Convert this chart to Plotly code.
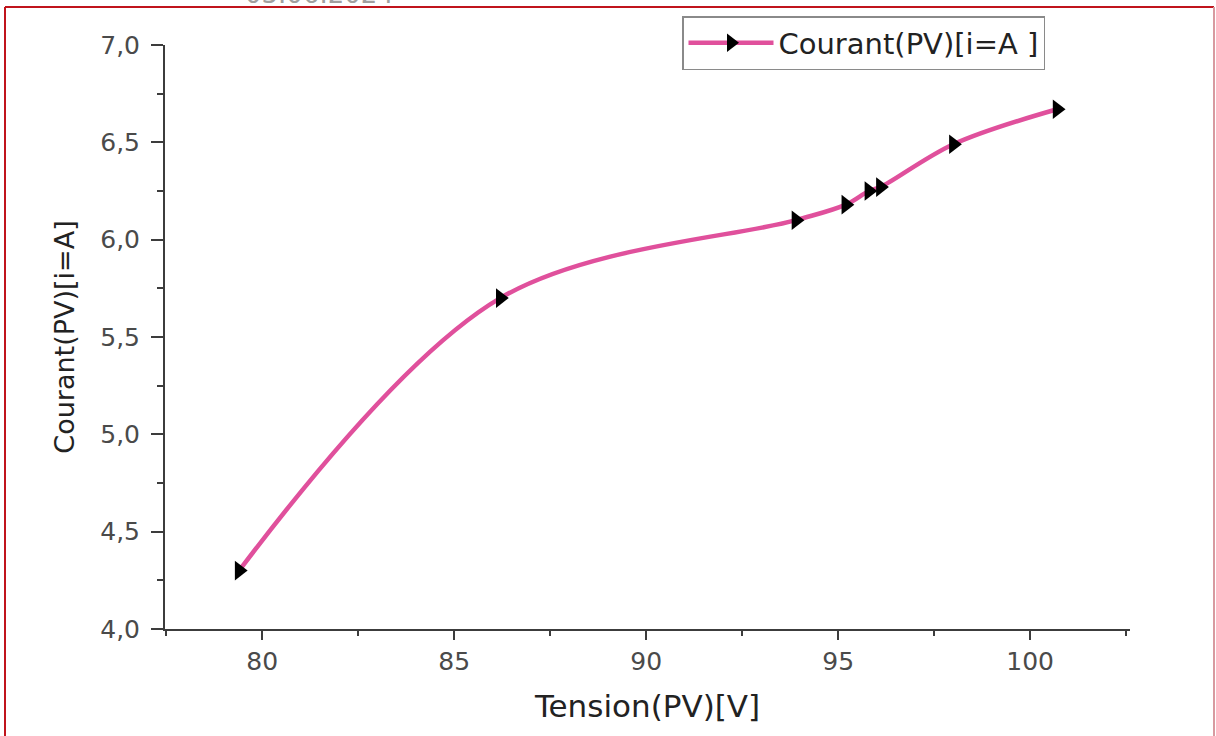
import plotly.graph_objects as go

# Data
tension = [79.4, 86.2, 93.9, 95.2, 95.8, 96.1, 98.0, 100.7]
courant = [4.30, 5.70, 6.10, 6.18, 6.25, 6.27, 6.49, 6.67]
series_name = "Courant(PV)[i=A ]"
x_title = "Tension(PV)[V]"
y_title = "Courant(PV)[i=A]"
date_text = "03.06.2024"

FONT = "DejaVu Sans"
AXIS_COLOR = "#3c3c3c"

fig = go.Figure()
fig.add_trace(go.Scatter(
    x=tension, y=courant, name=series_name,
    mode="lines+markers",
    line=dict(color="#E0509C", width=4.5, shape="spline", smoothing=1.0),
    marker=dict(symbol="triangle-right", size=17, color="black"),
))

# plot area: left 165, right 1130, top 45, bottom 629
L, R, T, B = 165, 1130, 45, 629
W, H = R - L, B - T

def px(xp):
    return (xp - L) / W

def py(yp):
    return (B - yp) / H

fig.update_layout(
    width=1216, height=736,
    margin=dict(l=L, r=1216 - R, t=T, b=736 - B, autoexpand=False),
    paper_bgcolor="white", plot_bgcolor="white",
    separators=", ",
    showlegend=True,
    legend=dict(
        x=px(682), y=py(16), xanchor="left", yanchor="top",
        bordercolor="#8a8a8a", borderwidth=1.5, bgcolor="white",
        font=dict(family=FONT, size=29, color="#222"),
        itemwidth=85,
    ),
    xaxis=dict(
        range=[77.47, 102.6], showgrid=False, zeroline=False,
        showline=True, linecolor=AXIS_COLOR, linewidth=2,
        ticks="outside", ticklen=9, tickwidth=2, tickcolor=AXIS_COLOR,
        tick0=80, dtick=5,
        minor=dict(ticks="outside", ticklen=5, tickwidth=2, tickcolor=AXIS_COLOR, dtick=2.5, tick0=80),
        tickfont=dict(family=FONT, size=25, color="#4a4a4a"),
        title=dict(text=x_title, font=dict(family=FONT, size=31, color="#222"), standoff=20),
    ),
    yaxis=dict(
        range=[4.0, 7.0], showgrid=False, zeroline=False,
        showline=True, linecolor=AXIS_COLOR, linewidth=2,
        ticks="outside", ticklen=12, tickwidth=2, tickcolor=AXIS_COLOR,
        tick0=4.0, dtick=0.5, tickformat=".1f", ticklabelstandoff=6,
        minor=dict(ticks="outside", ticklen=6, tickwidth=2, tickcolor=AXIS_COLOR, dtick=0.25, tick0=4.0),
        tickfont=dict(family=FONT, size=25, color="#4a4a4a"),
        title=dict(text=y_title, font=dict(family=FONT, size=27, color="#222"), standoff=18),
    ),
    shapes=[
        dict(type="line", xref="paper", yref="paper", x0=px(5), x1=px(1214), y0=py(7), y1=py(7),
             line=dict(color="#C0141C", width=2)),
        dict(type="line", xref="paper", yref="paper", x0=px(5), x1=px(5), y0=py(7), y1=py(760),
             line=dict(color="#C0141C", width=2)),
        dict(type="line", xref="paper", yref="paper", x0=px(1214), x1=px(1214), y0=py(7), y1=py(760),
             line=dict(color="#D89AA0", width=2)),
    ],
    annotations=[
        dict(text=date_text, xref="paper", yref="paper", x=px(243), y=py(11),
             xanchor="left", yanchor="bottom", showarrow=False,
             font=dict(family=FONT, size=26, color="#a0a0a0")),
    ],
)

fig.write_html("out.html", config={"displayModeBar": False},
               post_script="document.body.style.margin='0px';")
